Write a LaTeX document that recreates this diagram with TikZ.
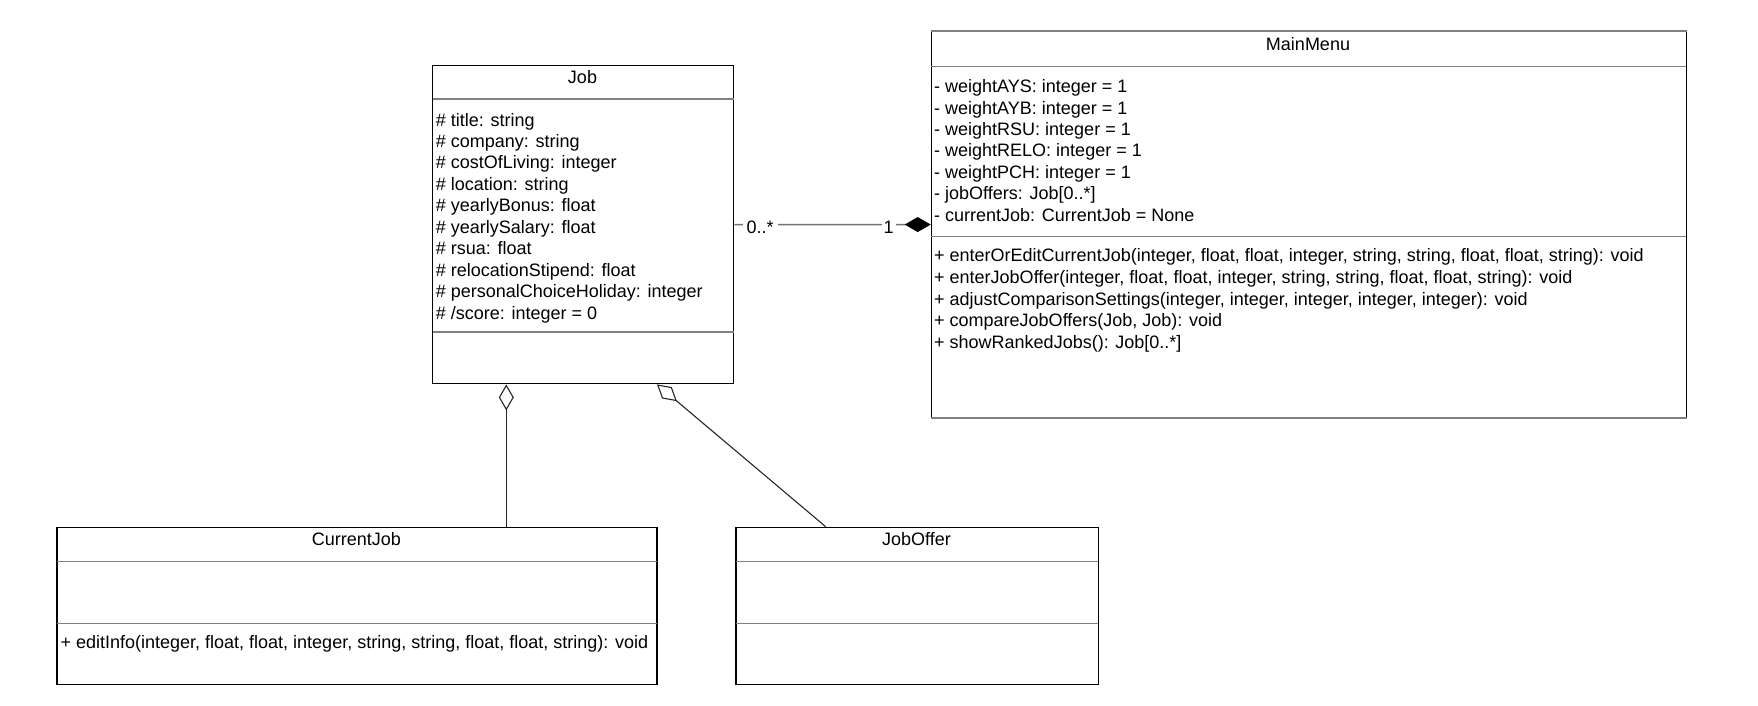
\documentclass[tikz,border=0pt]{standalone}
\usepackage{fontspec}
\setmainfont{Liberation Sans}
\usetikzlibrary{arrows.meta}
\begin{document}
\begin{tikzpicture}[x=1pt,y=-1pt,
  font=\fontsize{18}{21.6}\selectfont,
  classbox/.style={draw=black, line width=1.4pt, fill=white, inner sep=0pt, anchor=north west},
  divider/.style={draw=black!50, line width=1.1pt, shorten <=0.7pt, shorten >=0.7pt},
  txt/.style={anchor=base west, inner sep=0pt},
  title/.style={anchor=base, inner sep=0pt},
  agg/.style={draw=black!85, line width=1.1pt, -{Diamond[open, length=26pt, width=15pt, fill=white]}},
  comp/.style={draw=black!55, line width=1.5pt, -{Diamond[length=26pt, width=15pt, black]}},
  mult/.style={fill=white, inner xsep=4pt, inner ysep=1pt, anchor=base}
]
\useasboundingbox (0,0) rectangle (1758,705);

% class boxes
\node[classbox, minimum width=301pt, minimum height=318pt] (job) at (432,65) {};
\node[classbox, minimum width=755pt, minimum height=385.7pt] (menu) at (930.7,31) {};
\node[classbox, minimum width=600pt, minimum height=157.3pt] (cur) at (56.3,526.7) {};
\node[classbox, minimum width=362.4pt, minimum height=157.3pt] (offer) at (735.3,526.7) {};
\draw[black!50, line width=1.4pt] (menu.north west) -- (menu.north east);
\draw[black!50, line width=1.4pt] (menu.south west) -- (menu.south east);

% compartment separators
\draw[divider] (job.west |- 0,99) -- (job.east |- 0,99);
\draw[divider] (job.west |- 0,332) -- (job.east |- 0,332);
\draw[divider] (menu.west |- 0,66.7) -- (menu.east |- 0,66.7);
\draw[divider] (menu.west |- 0,236.5) -- (menu.east |- 0,236.5);
\draw[divider] (cur.west |- 0,561.7) -- (cur.east |- 0,561.7);
\draw[divider] (cur.west |- 0,623.3) -- (cur.east |- 0,623.3);
\draw[divider] (offer.west |- 0,561.7) -- (offer.east |- 0,561.7);
\draw[divider] (offer.west |- 0,623.3) -- (offer.east |- 0,623.3);

% class names
\node[title] (jobT) at (582.5,83.3) {Job};
\node[title] (menuT) at (1308,50.7) {MainMenu};
\node[title] (curT) at (356.3,545.7) {CurrentJob};
\node[title] (offerT) at (916.5,545.7) {JobOffer};

% Job attributes
\foreach [count=\i] \t in {
  {\# title: string},
  {\# company: string},
  {\# costOfLiving: integer},
  {\# location: string},
  {\# yearlyBonus: float},
  {\# yearlySalary: float},
  {\# rsua: float},
  {\# relocationStipend: float},
  {\# personalChoiceHoliday: integer},
  {\# /score: integer = 0}}
  \node[txt] (jobA\i) at (435.7,{126+21.48*(\i-1)}) {\t};

% MainMenu attributes
\foreach [count=\i] \t in {
  {- weightAYS: integer = 1},
  {- weightAYB: integer = 1},
  {- weightRSU: integer = 1},
  {- weightRELO: integer = 1},
  {- weightPCH: integer = 1},
  {- jobOffers: Job[0..*]},
  {- currentJob: CurrentJob = None}}
  \node[txt] (menuA\i) at (934,{92.7+21.4*(\i-1)}) {\t};

% MainMenu operations
\foreach [count=\i] \t in {
  {+ enterOrEditCurrentJob(integer, float, float, integer, string, string, float, float, string): void},
  {+ enterJobOffer(integer, float, float, integer, string, string, float, float, string): void},
  {+ adjustComparisonSettings(integer, integer, integer, integer, integer): void},
  {+ compareJobOffers(Job, Job): void},
  {+ showRankedJobs(): Job[0..*]}}
  \node[txt] (menuO\i) at (934,{261.7+21.65*(\i-1)}) {\t};

% CurrentJob operation
\node[txt] (curO1) at (60.4,648.3) {+ editInfo(integer, float, float, integer, string, string, float, float, string): void};

% composition Job -- MainMenu
\draw[comp] (job.east) -- (menu.west);
\node[mult] (multJob) at (760,233.3) {0..*};
\node[mult, inner xsep=2pt] (multMenu) at (888.5,233.3) {1};

% aggregations towards Job
\coordinate (aggCur) at (506.3,0);
\coordinate (aggOfferLow) at (825.7,0);
\coordinate (aggOfferHigh) at (657,0);
\draw[agg] (cur.north -| aggCur) -- (job.south -| aggCur);
\draw[agg] (offer.north -| aggOfferLow) -- (job.south -| aggOfferHigh);
\end{tikzpicture}
\end{document}
